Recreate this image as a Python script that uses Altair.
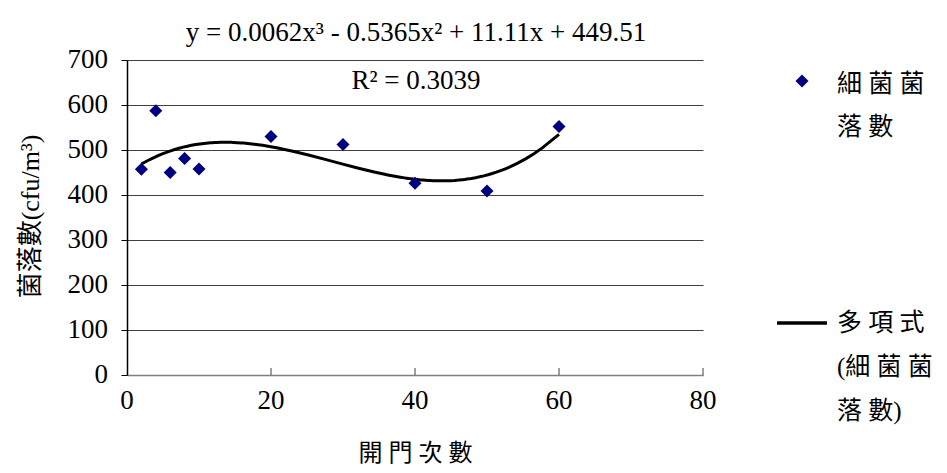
import altair as alt
import pandas as pd

# data
door_openings = [2, 4, 6, 8, 10, 20, 30, 40, 50, 60]
colony_counts = [457, 587, 450, 481, 458, 530, 512, 426, 409, 552]
x_ticks = [0, 20, 40, 60, 80]
y_ticks = [0, 100, 200, 300, 400, 500, 600, 700]

equation = "y = 0.0062x³ - 0.5365x² + 11.11x + 449.51"
r2_text = "R² = 0.3039"
x_title = "開 門 次 數"
y_title = "菌落數(cfu/m³)"
legend_pts = ["細 菌 菌", "落 數"]
legend_line = ["多 項 式", "(細 菌 菌", "落 數)"]

FONT = "Liberation Serif, Noto Sans CJK TC, serif"

df = pd.DataFrame({"x": door_openings, "y": colony_counts})
xt_df = pd.DataFrame({"x": x_ticks, "lab": [str(v) for v in x_ticks]})
yt_df = pd.DataFrame({"y": y_ticks, "lab": [str(v) for v in y_ticks]})

W, H = 576, 315

xscale = alt.Scale(domain=[0, 80], nice=False)
yscale = alt.Scale(domain=[0, 700], nice=False)

base = alt.Chart(df)

x_axis = alt.Axis(values=x_ticks, title=x_title, grid=False, ticks=False, labels=False,
                  domainColor="#808080", domainWidth=1.5,
                  titleFont=FONT, titleFontWeight="normal", titleColor="black",
                  titleY=78, titleBaseline="middle", titleFontSize=24)
y_axis = alt.Axis(values=y_ticks, title=y_title, grid=True, gridColor="#404040",
                  gridWidth=1, domainColor="black", domainWidth=1.5, tickColor="black",
                  tickSize=6, labels=False,
                  titleFont=FONT, titleFontWeight="normal", titleColor="black",
                  titleX=-97, titleY=156, titleAngle=270,
                  titleAlign="center", titleBaseline="middle", titleFontSize=26)

points = base.mark_point(shape="diamond", filled=True, color="#000080", size=170, opacity=1).encode(
    x=alt.X("x:Q", scale=xscale, axis=x_axis),
    y=alt.Y("y:Q", scale=yscale, axis=y_axis),
)

trend = base.transform_regression(
    "x", "y", method="poly", order=3, extent=[2, 60]
).mark_line(color="black", strokeWidth=3).encode(
    x=alt.X("x:Q", scale=xscale, axis=x_axis), y=alt.Y("y:Q", scale=yscale, axis=y_axis)
)

xtick_rules = alt.Chart(xt_df[xt_df.x > 0]).mark_rule(color="#404040", strokeWidth=1).encode(
    x=alt.X("x:Q", scale=xscale, axis=x_axis), y=alt.value(H), y2=alt.value(H - 7)
)

x_labels = alt.Chart(xt_df).mark_text(
    font=FONT, fontSize=27, color="black", align="center", baseline="middle"
).encode(x=alt.X("x:Q", scale=xscale, axis=x_axis), y=alt.value(H + 26), text="lab:N")

y_labels = alt.Chart(yt_df).mark_text(
    font=FONT, fontSize=27, color="black", align="right", baseline="middle"
).encode(y=alt.Y("y:Q", scale=yscale, axis=y_axis), x=alt.value(-19), text="lab:N")

eq_text = alt.Chart(pd.DataFrame({"t": [equation]})).mark_text(
    font=FONT, fontSize=27, color="black", align="center", baseline="middle"
).encode(text="t:N", x=alt.value(289), y=alt.value(-27))

r2 = alt.Chart(pd.DataFrame({"t": [r2_text]})).mark_text(
    font=FONT, fontSize=27, color="black", align="center", baseline="middle"
).encode(text="t:N", x=alt.value(289), y=alt.value(21))

leg_sym = alt.Chart(pd.DataFrame({"k": ["pts"]})).mark_point(
    shape="diamond", filled=True, color="#000080", size=170, opacity=1
).encode(x=alt.value(675), y=alt.value(21))

leg_t1 = alt.Chart(pd.DataFrame({"t": [legend_pts]})).mark_text(
    font=FONT, fontSize=25, color="black", align="left", baseline="middle", lineHeight=43
).encode(text="t", x=alt.value(710), y=alt.value(24))

leg_line = alt.Chart(pd.DataFrame({"k": ["line"]})).mark_rule(
    color="black", strokeWidth=3.5
).encode(x=alt.value(650), x2=alt.value(700), y=alt.value(263))

leg_t2 = alt.Chart(pd.DataFrame({"t": [legend_line]})).mark_text(
    font=FONT, fontSize=25, color="black", align="left", baseline="middle", lineHeight=44
).encode(text="t", x=alt.value(710), y=alt.value(263))

chart = alt.layer(
    xtick_rules, trend, points, x_labels, y_labels, eq_text, r2,
    leg_sym, leg_t1, leg_line, leg_t2
).properties(
    width=W, height=H,
    autosize=alt.AutoSizeParams(type="none"),
    padding={"left": 119, "top": 52, "right": 230, "bottom": 89},
).configure(background="white").configure_view(stroke=None)

chart.save("out.html", embed_options={"renderer": "svg", "actions": False})
